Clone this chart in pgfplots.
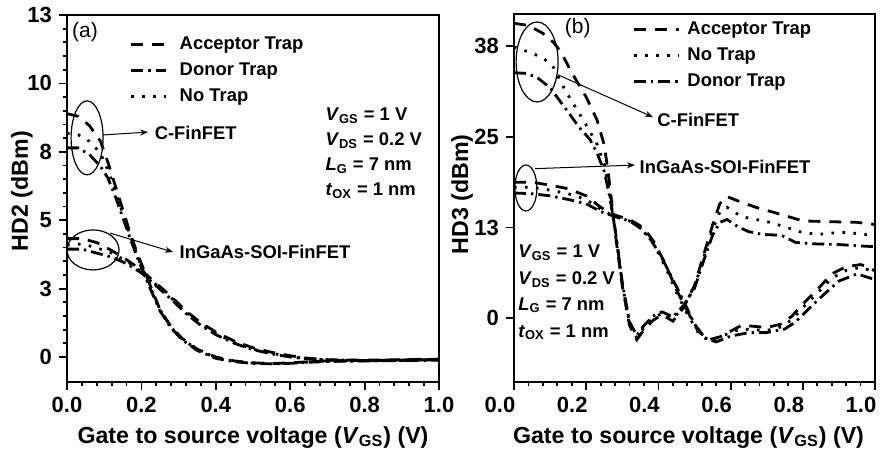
\documentclass[border=0pt]{standalone}
\usepackage{fontspec}
\setmainfont{Liberation Sans}
\usepackage{pgfplots}
\pgfplotsset{compat=1.18}
\usetikzlibrary{arrows.meta}

\newcommand{\tx}{\bfseries\fontsize{9.2}{10}\selectfont}
\newcommand{\lb}{\bfseries\fontsize{11.6}{13}\selectfont}
\tikzset{ptxt/.style={anchor=west, inner sep=0pt, yshift=-3pt, font=\tx}}
\pgfplotsset{
  hd/.style={
    scale only axis,
    xmin=0, xmax=1,
    xtick={0,0.2,0.4,0.6,0.8,1.0},
    xticklabels={0.0,0.2,0.4,0.6,0.8,1.0},
    minor x tick num=4, minor y tick num=4,
    tick align=outside, xtick pos=left, ytick pos=left,
    major tick length=4pt, minor tick length=2.2pt,
    every tick/.style={black, line width=0.9pt},
    axis line style={line width=1.1pt},
    /pgf/number format/assume math mode=true,
    tick label style={font=\bfseries\fontsize{11}{12}\selectfont},
    xlabel style={font=\lb},
    xlabel={Gate to source voltage (\textit{V}\textsubscript{GS}) (V)},
    every axis y label/.style={rotate=90, anchor=center, font=\lb},
    legend cell align=left,
    legend style={draw=none, fill=none, font=\tx,
      row sep=3.1pt, nodes={inner sep=1pt}},
    every axis plot/.append style={line width=1.4pt, black},
  },
  acc/.style={dash pattern=on 6pt off 4.5pt},
  don/.style={dash pattern=on 6pt off 2.5pt on 1.2pt off 2.5pt},
  non/.style={dash pattern=on 1.3pt off 4.2pt},
}

\begin{document}
\begin{tikzpicture}
\useasboundingbox (0,0) rectangle (440.5pt,225.5pt);

% ---------------- (a) HD2 ----------------
\begin{axis}[hd, at={(33.5pt,34.5pt)}, anchor=south west,
  width=186pt, height=183.5pt,
  ymin=-0.95, ymax=13,
  ytick={0,2.6,5.2,7.8,10.4,13}, yticklabels={0,3,5,8,10,13},
  ylabel={HD2 (dBm)},
  every axis y label/.append style={at={(axis description cs:-0.121,0.52)}},
  legend image code/.code={\draw[#1] (0pt,0pt) -- (17.5pt,0pt);},
  legend style={at={(axis cs:0.152,12.42)}, anchor=north west,
    /tikz/every odd column/.style={column sep=5pt}}]
% C-FinFET
\addplot[acc] coordinates {(0,9.25) (0.03,9.15) (0.06,8.8) (0.09,8.2) (0.11,7.4) (0.13,6.5) (0.15,5.6) (0.17,4.7) (0.19,3.9) (0.21,3.2) (0.23,2.5) (0.25,1.8) (0.28,1.15) (0.31,0.7) (0.35,0.3) (0.4,0.0) (0.45,-0.15) (0.5,-0.22) (0.55,-0.25) (0.6,-0.22) (0.65,-0.18) (0.7,-0.15) (0.8,-0.13) (0.9,-0.12) (1.0,-0.1)};
\addlegendentry{Acceptor Trap}
\addplot[don] coordinates {(0,7.95) (0.03,7.95) (0.06,7.7) (0.09,7.25) (0.11,6.8) (0.13,6.1) (0.15,5.3) (0.17,4.5) (0.19,3.75) (0.21,3.05) (0.23,2.4) (0.25,1.75) (0.28,1.1) (0.31,0.65) (0.35,0.25) (0.4,-0.05) (0.45,-0.18) (0.5,-0.24) (0.55,-0.26) (0.6,-0.24) (0.65,-0.2) (0.7,-0.17) (0.8,-0.15) (0.9,-0.14) (1.0,-0.12)};
\addlegendentry{Donor Trap}
\addplot[non] coordinates {(0,8.5) (0.03,8.45) (0.06,8.2) (0.09,7.75) (0.11,7.1) (0.13,6.3) (0.15,5.45) (0.17,4.6) (0.19,3.8) (0.21,3.1) (0.23,2.45) (0.25,1.8) (0.28,1.12) (0.31,0.68) (0.35,0.28) (0.4,-0.02) (0.45,-0.16) (0.5,-0.23) (0.55,-0.25) (0.6,-0.23) (0.65,-0.19) (0.7,-0.16) (0.8,-0.14) (0.9,-0.13) (1.0,-0.11)};
\addlegendentry{No Trap}
% InGaAs-SOI-FinFET
\addplot[acc, forget plot] coordinates {(0,4.5) (0.04,4.5) (0.08,4.35) (0.12,4.05) (0.16,3.7) (0.2,3.3) (0.24,2.8) (0.28,2.3) (0.32,1.75) (0.36,1.3) (0.4,0.95) (0.45,0.6) (0.5,0.35) (0.55,0.18) (0.6,0.05) (0.65,-0.05) (0.7,-0.1) (0.8,-0.12) (0.9,-0.1) (1.0,-0.08)};
\addplot[non, forget plot] coordinates {(0,4.25) (0.04,4.3) (0.08,4.15) (0.12,3.95) (0.16,3.65) (0.2,3.25) (0.24,2.75) (0.28,2.25) (0.32,1.7) (0.36,1.25) (0.4,0.9) (0.45,0.55) (0.5,0.3) (0.55,0.14) (0.6,0.02) (0.65,-0.07) (0.7,-0.11) (0.8,-0.13) (0.9,-0.11) (1.0,-0.09)};
\addplot[don, forget plot] coordinates {(0,4.1) (0.04,4.1) (0.08,3.95) (0.12,3.8) (0.16,3.55) (0.2,3.2) (0.24,2.7) (0.28,2.2) (0.32,1.65) (0.36,1.2) (0.4,0.85) (0.45,0.52) (0.5,0.28) (0.55,0.12) (0.6,0.0) (0.65,-0.08) (0.7,-0.12) (0.8,-0.14) (0.9,-0.12) (1.0,-0.1)};
% annotations
\node[anchor=west, inner sep=0pt, font=\fontsize{10.5}{11}\selectfont] at (axis cs:0.013,12.36) {(a)};
\draw[line width=0.6pt] (axis cs:0.054,8.33) ellipse [x radius=8pt, y radius=18.5pt];
\draw[line width=0.5pt, -{Stealth[length=4pt]}] (axis cs:0.097,8.44) -- (axis cs:0.218,8.55);
\node[anchor=west, inner sep=0pt, font=\tx] at (axis cs:0.235,8.5) {C-FinFET};
\draw[line width=0.6pt] (axis cs:0.07,4.07) ellipse [x radius=13pt, y radius=10pt];
\draw[line width=0.5pt, -{Stealth[length=4pt]}] (axis cs:0.116,4.71) -- (axis cs:0.285,3.99);
\node[anchor=west, inner sep=0pt, font=\tx] at (axis cs:0.302,3.99) {InGaAs-SOI-FinFET};
\node[ptxt] at (axis cs:0.694,9.39) {\textit{V}\textsubscript{GS} = 1 V};
\node[ptxt] at (axis cs:0.694,8.44) {\textit{V}\textsubscript{DS} = 0.2 V};
\node[ptxt] at (axis cs:0.694,7.49) {\textit{L}\textsubscript{G} = 7 nm};
\node[ptxt] at (axis cs:0.694,6.54) {\textit{t}\textsubscript{OX} = 1 nm};
\end{axis}

% ---------------- (b) HD3 ----------------
\begin{axis}[hd, at={(257pt,34.5pt)}, anchor=south west,
  width=180.5pt, height=184pt,
  ymin=-8.9, ymax=42.5,
  ytick={0,12.667,25.333,38}, yticklabels={0,13,25,38},
  xticklabel style={xshift=-7pt},
  xlabel style={xshift=-3pt},
  ylabel={HD3 (dBm)},
  every axis y label/.append style={at={(axis description cs:-0.144,0.51)}},
  legend image code/.code={\draw[#1] (0pt,0pt) -- (22.5pt,0pt);},
  legend style={at={(axis cs:0.311,42.3)}, anchor=north west,
    /tikz/every odd column/.style={column sep=2.5pt}}]
% C-FinFET
\addplot[acc] coordinates {(0,41.2) (0.04,40.9) (0.08,39.8) (0.11,38.5) (0.13,37.2) (0.16,34.3) (0.2,30.9) (0.23,27.7) (0.25,24.2) (0.26,20.7) (0.27,16.5) (0.28,12) (0.3,4.5) (0.32,-1) (0.34,-3) (0.36,-1.6) (0.385,-0.3) (0.41,0.5) (0.44,-0.4) (0.47,1.5) (0.5,4.6) (0.525,8.8) (0.55,13) (0.57,16) (0.59,17) (0.62,16.4) (0.67,15.5) (0.74,14.5) (0.8,13.6) (0.87,13.5) (0.95,13.4) (1.0,13.1)};
\addlegendentry{Acceptor Trap}
\addplot[non] coordinates {(0,37.9) (0.04,37.2) (0.08,36.4) (0.11,35) (0.14,32) (0.17,29.5) (0.2,27) (0.23,24.3) (0.25,21.5) (0.265,17.5) (0.28,12.3) (0.3,4.8) (0.32,-0.8) (0.34,-2.7) (0.36,-1.3) (0.385,0) (0.41,0.7) (0.44,-0.1) (0.47,1.6) (0.5,4.4) (0.525,8.4) (0.55,12.4) (0.57,14.8) (0.59,15.5) (0.63,14.2) (0.67,13.8) (0.71,13.4) (0.755,12.7) (0.79,12.1) (0.84,11.7) (0.88,11.9) (0.925,12) (0.97,11.7) (1.0,11.6)};
\addlegendentry{No Trap}
\addplot[don] coordinates {(0,34.3) (0.035,34.2) (0.065,33.6) (0.1,32.2) (0.15,28.8) (0.18,26.7) (0.21,25) (0.23,23.1) (0.25,20.5) (0.265,17) (0.28,12.5) (0.3,5) (0.32,-0.5) (0.34,-2.4) (0.36,-1) (0.385,0.3) (0.41,0.9) (0.44,0.2) (0.47,1.8) (0.5,4.2) (0.525,8) (0.55,11.6) (0.57,13.4) (0.59,13.8) (0.62,12.8) (0.65,12.1) (0.69,11.7) (0.74,11.6) (0.78,10.6) (0.83,10.4) (0.9,10.3) (0.96,10.1) (1.0,10)};
\addlegendentry{Donor Trap}
% InGaAs-SOI-FinFET
\addplot[acc, forget plot] coordinates {(0,19) (0.05,19) (0.1,18.6) (0.15,18.1) (0.2,17.1) (0.24,15.5) (0.28,14.4) (0.32,13.8) (0.36,12.6) (0.39,10.5) (0.42,7.5) (0.45,4) (0.48,1) (0.51,-1.8) (0.54,-3) (0.57,-2.6) (0.6,-1.8) (0.63,-1) (0.66,-1.1) (0.7,-1.3) (0.74,-0.8) (0.77,0.3) (0.8,2) (0.84,4) (0.88,6.2) (0.92,7.2) (0.96,7.5) (0.98,7.2) (1.0,6.6)};
\addplot[non, forget plot] coordinates {(0,18.3) (0.05,18.3) (0.1,17.9) (0.15,17.4) (0.2,16.6) (0.24,15.2) (0.28,14.2) (0.32,13.6) (0.36,12.3) (0.39,10.1) (0.42,7.1) (0.45,3.6) (0.48,0.6) (0.51,-2) (0.54,-3.1) (0.57,-2.6) (0.6,-2) (0.63,-1.5) (0.66,-1.6) (0.7,-1.7) (0.74,-1.2) (0.77,-0.2) (0.8,1.5) (0.84,3.5) (0.88,5.6) (0.92,6.7) (0.96,7.1) (0.98,6.8) (1.0,6.1)};
\addplot[don, forget plot] coordinates {(0,17.5) (0.05,17.4) (0.1,17.1) (0.15,16.6) (0.2,16) (0.24,14.9) (0.28,14.2) (0.32,13.6) (0.35,12.6) (0.38,10.9) (0.41,8.4) (0.44,5.4) (0.47,2.4) (0.5,-0.8) (0.53,-2.8) (0.56,-3.3) (0.6,-2.5) (0.65,-2) (0.7,-2) (0.75,-1.5) (0.78,-0.5) (0.82,1.5) (0.86,3.4) (0.9,5.2) (0.95,6.2) (1.0,5.4)};
% annotations
\node[anchor=west, inner sep=0pt, font=\fontsize{10.5}{11}\selectfont] at (axis cs:0.14,40.5) {(b)};
\draw[line width=0.6pt] (axis cs:0.064,35.8) ellipse [x radius=10.5pt, y radius=20pt];
\draw[line width=0.5pt, -{Stealth[length=4pt]}] (axis cs:0.122,34.0) -- (axis cs:0.385,28.1);
\node[anchor=west, inner sep=0pt, font=\tx] at (axis cs:0.396,27.7) {C-FinFET};
\draw[line width=0.6pt] (axis cs:0.033,18.2) ellipse [x radius=5.5pt, y radius=11.5pt];
\draw[line width=0.5pt, -{Stealth[length=4pt]}] (axis cs:0.058,20.9) -- (axis cs:0.335,21.4);
\node[anchor=west, inner sep=0pt, font=\tx] at (axis cs:0.347,21.2) {InGaAs-SOI-FinFET};
\node[ptxt] at (axis cs:0.011,10.03) {\textit{V}\textsubscript{GS} = 1 V};
\node[ptxt] at (axis cs:0.011,6.27) {\textit{V}\textsubscript{DS} = 0.2 V};
\node[ptxt] at (axis cs:0.011,2.65) {\textit{L}\textsubscript{G} = 7 nm};
\node[ptxt] at (axis cs:0.011,-1.11) {\textit{t}\textsubscript{OX} = 1 nm};
\end{axis}
\end{tikzpicture}
\end{document}
